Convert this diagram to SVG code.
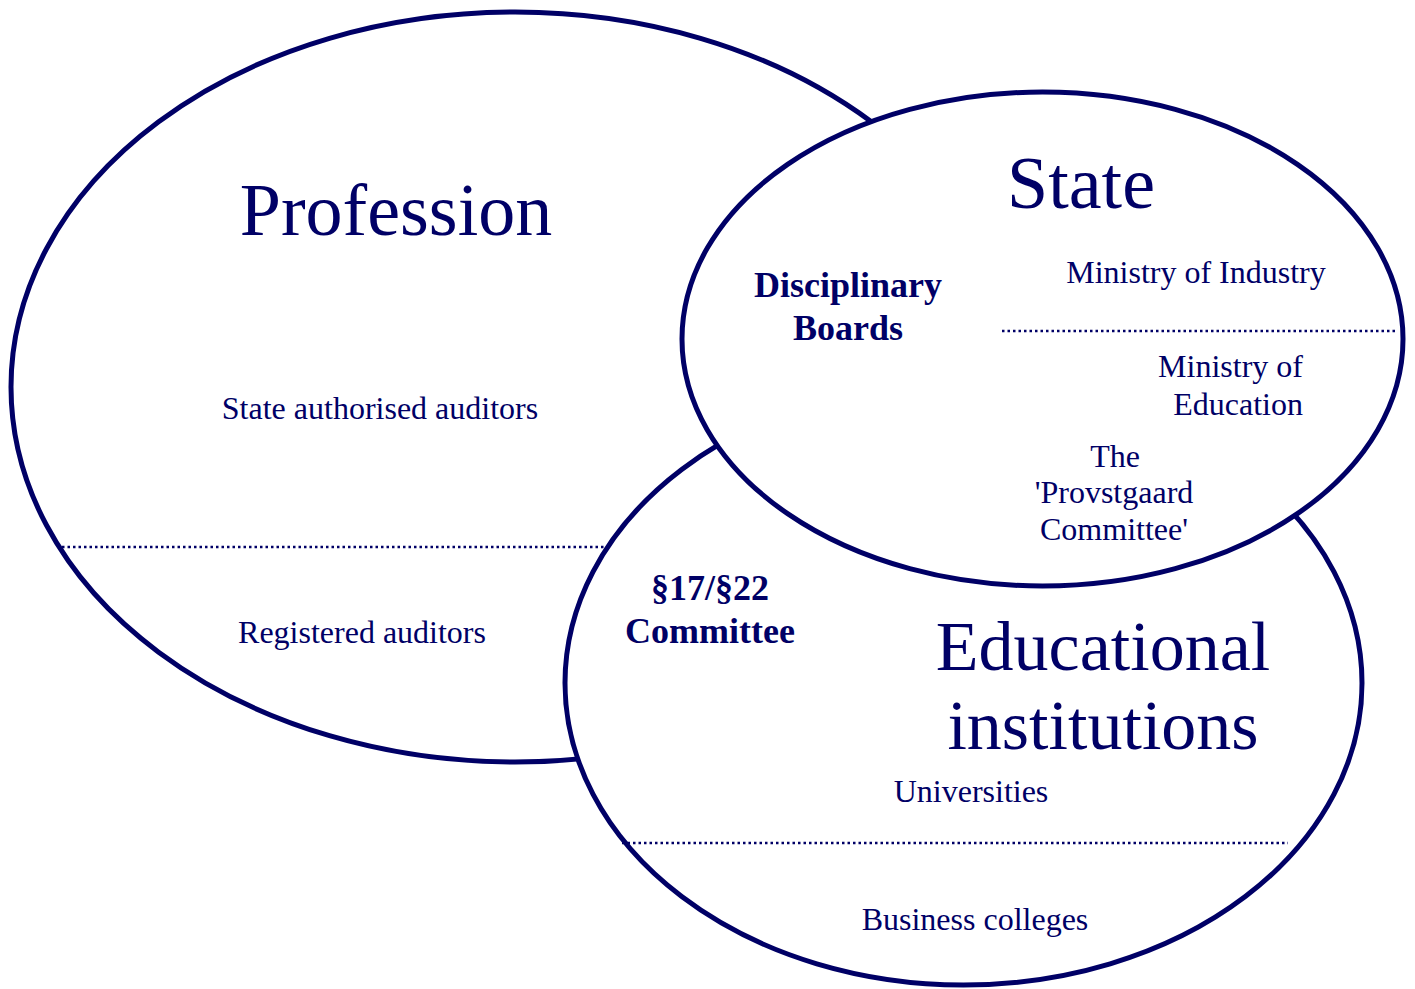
<svg xmlns="http://www.w3.org/2000/svg" width="1415" height="989" viewBox="0 0 1415 989">
<style>
.ring{fill:#ffffff;stroke:#000066;stroke-width:5}
.dot{stroke:#000066;stroke-width:2.5;stroke-dasharray:2.5 3;fill:none}
text{font-family:"Liberation Serif","Times New Roman",serif;fill:#000066}
.big{font-size:74px}
.mid{font-size:70px}
.small{font-size:32px}
.bold{font-size:36px;font-weight:bold}
</style>
<rect width="1415" height="989" fill="#ffffff"/>
<g id="profession">
<ellipse class="ring" cx="515" cy="387" rx="504" ry="375"/>
<line class="dot" x1="62" y1="547" x2="612" y2="547"/>
<text class="big" x="396" y="235" text-anchor="middle">Profession</text>
<text class="small" x="380" y="419" text-anchor="middle">State authorised auditors</text>
<text class="small" x="362" y="643" text-anchor="middle">Registered auditors</text>
</g>
<g id="education">
<ellipse class="ring" cx="963.5" cy="683" rx="398.5" ry="302"/>
<line class="dot" x1="622" y1="843" x2="1288" y2="843"/>
<text class="bold" x="710" y="600" text-anchor="middle">§17/§22</text>
<text class="bold" x="710" y="643" text-anchor="middle">Committee</text>
<text class="mid" x="1103" y="670" text-anchor="middle">Educational</text>
<text class="mid" x="1103" y="749" text-anchor="middle">institutions</text>
<text class="small" x="971" y="802" text-anchor="middle">Universities</text>
<text class="small" x="975" y="930" text-anchor="middle">Business colleges</text>
</g>
<g id="state">
<ellipse class="ring" cx="1042.5" cy="339" rx="360.5" ry="247"/>
<line class="dot" x1="1002" y1="331" x2="1398" y2="331"/>
<text class="big" x="1081" y="208" text-anchor="middle">State</text>
<text class="bold" x="848" y="297" text-anchor="middle">Disciplinary</text>
<text class="bold" x="848" y="340" text-anchor="middle">Boards</text>
<text class="small" x="1196" y="283" text-anchor="middle">Ministry of Industry</text>
<text class="small" x="1303" y="377" text-anchor="end">Ministry of</text>
<text class="small" x="1303" y="415" text-anchor="end">Education</text>
<text class="small" x="1115" y="467" text-anchor="middle">The</text>
<text class="small" x="1114" y="503" text-anchor="middle">'Provstgaard</text>
<text class="small" x="1114" y="540" text-anchor="middle">Committee'</text>
</g>
<g id="connectors"/>
</svg>
